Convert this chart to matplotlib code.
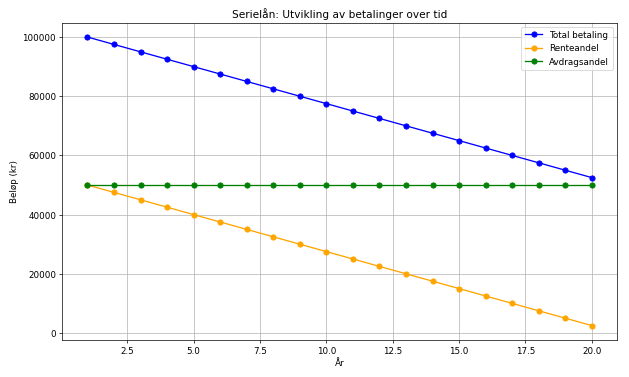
import matplotlib
matplotlib.use("Agg")
import matplotlib.pyplot as plt

years = list(range(1, 21))
total = [100000, 97500, 95000, 92500, 90000, 87500, 85000, 82500, 80000, 77500,
         75000, 72500, 70000, 67500, 65000, 62500, 60000, 57500, 55000, 52500]
rente = [50000, 47500, 45000, 42500, 40000, 37500, 35000, 32500, 30000, 27500,
         25000, 22500, 20000, 17500, 15000, 12500, 10000, 7500, 5000, 2500]
avdrag = [50000] * 20

fig, ax = plt.subplots(figsize=(10, 6), dpi=62.9)
ax.plot(years, total, marker='o', color='blue', label='Total betaling')
ax.plot(years, rente, marker='o', color='orange', label='Renteandel')
ax.plot(years, avdrag, marker='o', color='green', label='Avdragsandel')
ax.set_title('Serielån: Utvikling av betalinger over tid')
ax.set_xlabel('År')
ax.set_ylabel('Beløp (kr)')
ax.legend(loc='upper right')
ax.grid(True)
fig.subplots_adjust(left=0.099, right=0.981, top=0.939, bottom=0.098)
fig.savefig('out.png', dpi=62.9)
